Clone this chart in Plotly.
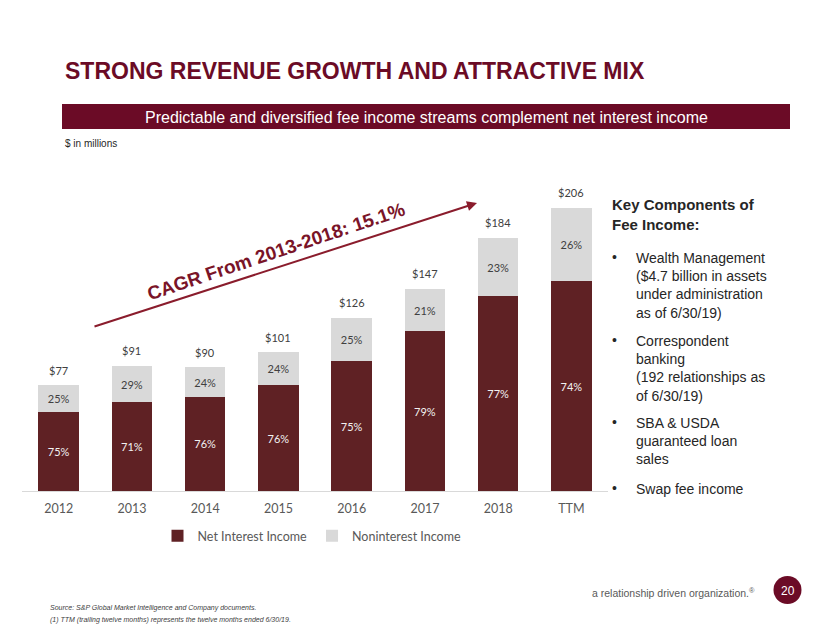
import plotly.graph_objects as go

categories = ["2012", "2013", "2014", "2015", "2016", "2017", "2018", "TTM"]
totals = [77, 91, 90, 101, 126, 147, 184, 206]
nii_pct = [75, 71, 76, 76, 75, 79, 77, 74]
nonint_pct = [25, 29, 24, 24, 25, 21, 23, 26]

nii_vals = [t * p / 100 for t, p in zip(totals, nii_pct)]
nonint_vals = [t * p / 100 for t, p in zip(totals, nonint_pct)]

OFF = 8  # page body margin
W, H = 830 - OFF, 632 - OFF
def px(x):
    return (x - OFF) / W
def py(y):
    return 1 - (y - OFF) / H

MAROON = "#6b0b26"
BAR_DARK = "#5f2124"
BAR_LIGHT = "#d9d9d9"
FONT_CHART = "Lato"

fig = go.Figure()
fig.add_trace(go.Bar(
    x=categories, y=nii_vals, name="Net Interest Income",
    marker=dict(color=BAR_DARK, line=dict(width=0)),
    text=[f"{p}%" for p in nii_pct], textposition="inside",
    insidetextanchor="middle", textangle=0,
    textfont=dict(family=FONT_CHART, size=11, color="#f2f2f2"),
    hoverinfo="skip",
))
fig.add_trace(go.Bar(
    x=categories, y=nonint_vals, name="Noninterest Income",
    marker=dict(color=BAR_LIGHT, line=dict(width=0)),
    text=[f"{p}%" for p in nonint_pct], textposition="inside",
    insidetextanchor="middle", textangle=0,
    textfont=dict(family=FONT_CHART, size=11, color="#404040"),
    hoverinfo="skip",
))

annotations = []
for i, t in enumerate(totals):
    annotations.append(dict(x=i, y=t, xref="x", yref="y", text=f"${t}",
                            showarrow=False, yshift=15,
                            font=dict(family=FONT_CHART, size=11, color="#404040")))

# Title
annotations.append(dict(x=px(63), y=py(71), xref="paper", yref="paper", xanchor="left", yanchor="middle",
                        text="<b>STRONG REVENUE GROWTH AND ATTRACTIVE MIX</b>", showarrow=False,
                        font=dict(family="Liberation Sans", size=23, color=MAROON)))
annotations.append(dict(x=px(426), y=py(117), xref="paper", yref="paper", xanchor="center", yanchor="middle",
                        text="Predictable and diversified fee income streams complement net interest income",
                        showarrow=False, font=dict(family="Liberation Sans", size=16, color="white")))
annotations.append(dict(x=px(63), y=py(143), xref="paper", yref="paper", xanchor="left", yanchor="middle",
                        text="$ in millions", showarrow=False,
                        font=dict(family="Liberation Sans", size=10, color="#262626")))

# CAGR arrow and text
annotations.append(dict(x=px(477), y=py(203), xref="paper", yref="paper",
                        ax=93 - 477, ay=327 - 203, axref="pixel", ayref="pixel",
                        showarrow=True, arrowhead=2, arrowsize=1, arrowwidth=2, arrowcolor="#8a1c2c", text=""))
annotations.append(dict(x=px(276), y=py(252), xref="paper", yref="paper", xanchor="center", yanchor="middle",
                        text="<b>CAGR From 2013-2018: 15.1%</b>", textangle=-18.5, showarrow=False,
                        font=dict(family="Liberation Sans", size=19, color="#7a1428")))

# Right text block
annotations.append(dict(x=px(610), y=py(215), xref="paper", yref="paper", xanchor="left", yanchor="middle",
                        text="<b>Key Components of<br>Fee Income:</b>", showarrow=False, align="left",
                        font=dict(family="Liberation Sans", size=15, color="#262626")))
bullets = [
    (257, "Wealth Management<br>($4.7 billion in assets<br>under administration<br>as of 6/30/19)"),
    (340, "Correspondent<br>banking<br>(192 relationships as<br>of 6/30/19)"),
    (422, "SBA & USDA<br>guaranteed loan<br>sales"),
    (488, "Swap fee income"),
]
for y0, txt in bullets:
    annotations.append(dict(x=px(610), y=py(y0), xref="paper", yref="paper", xanchor="left", yanchor="middle",
                            text="•", showarrow=False,
                            font=dict(family="Liberation Sans", size=14, color="#262626")))
    annotations.append(dict(x=px(634), y=py(y0 - 9), xref="paper", yref="paper", xanchor="left", yanchor="top",
                            text=txt, showarrow=False, align="left",
                            font=dict(family="Liberation Sans", size=14, color="#262626")))

# Footer
annotations.append(dict(x=px(757), y=py(592), xref="paper", yref="paper", xanchor="right", yanchor="middle",
                        text="a relationship driven organization.<sup>®</sup>", showarrow=False,
                        font=dict(family="Liberation Sans", size=10.5, color="#595959")))
annotations.append(dict(x=px(787.5), y=py(590.5), xref="paper", yref="paper", xanchor="center", yanchor="middle",
                        text="20", showarrow=False,
                        font=dict(family="Liberation Sans", size=12, color="white")))
annotations.append(dict(x=px(48), y=py(608), xref="paper", yref="paper", xanchor="left", yanchor="middle",
                        text="<i>Source: S&P Global Market Intelligence and Company documents.</i>", showarrow=False,
                        font=dict(family="Liberation Sans", size=7, color="#404040")))
annotations.append(dict(x=px(48), y=py(620), xref="paper", yref="paper", xanchor="left", yanchor="middle",
                        text="<i>(1) TTM (trailing twelve months) represents the twelve months ended 6/30/19.</i>",
                        showarrow=False, font=dict(family="Liberation Sans", size=7, color="#404040")))

shapes = [
    dict(type="rect", xref="paper", yref="paper", x0=px(62), x1=px(790), y0=py(104), y1=py(129),
         fillcolor=MAROON, line=dict(width=0), layer="below"),
    dict(type="circle", xref="paper", yref="paper", x0=px(773.5), x1=px(801.5), y0=py(604), y1=py(576),
         fillcolor=MAROON, line=dict(width=0)),
]

fig.update_layout(
    width=W, height=H, margin=dict(l=0, r=0, t=0, b=0),
    paper_bgcolor="white", plot_bgcolor="white",
    barmode="stack", bargap=0.45,
    showlegend=True,
    legend=dict(orientation="h", x=px(312), y=py(536), xanchor="center", yanchor="middle",
                font=dict(family=FONT_CHART, size=12.5, color="#595959"), traceorder="normal",
                itemwidth=30),
    xaxis=dict(type="category", domain=[px(22), px(608)], range=[-0.5, len(categories) - 0.5],
               showline=True, linecolor="#d9d9d9", linewidth=1, ticklabelstandoff=6,
               ticks="", tickfont=dict(family=FONT_CHART, size=12.5, color="#595959"), fixedrange=True),
    yaxis=dict(domain=[py(491), py(150)], range=[0, 248], visible=False, showgrid=False, fixedrange=True),
    annotations=annotations, shapes=shapes,
    uniformtext=dict(mode=False),
)

fig.write_html("out.html")
